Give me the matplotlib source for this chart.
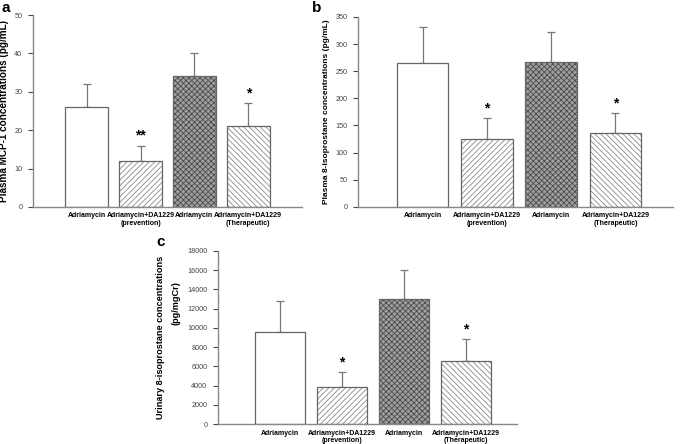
import matplotlib
matplotlib.use("Agg")
import matplotlib.pyplot as plt

plt.rcParams['font.family'] = ['Liberation Sans', 'DejaVu Sans']
plt.rcParams['hatch.linewidth'] = 0.6

groups = ["Adriamycin", "Adriamycin+DA1229\n(prevention)", "Adriamycin", "Adriamycin+DA1229\n(Therapeutic)"]

# panel a: plasma MCP-1
mcp_mean = [26, 12, 34, 21]
mcp_err = [6, 4, 6, 6]
mcp_sig = ["", "**", "", "*"]

# panel b: plasma 8-isoprostane
iso_mean = [265, 125, 266, 137]
iso_err = [66, 38, 56, 36]
iso_sig = ["", "*", "", "*"]

# panel c: urinary 8-isoprostane
uri_mean = [9600, 3800, 13000, 6500]
uri_err = [3200, 1600, 3000, 2350]
uri_sig = ["", "*", "", "*"]

fills = ["white", "white", "#a0a0a0", "white"]
hatches = [None, "//////", "xxxxxx", "\\\\\\\\\\\\"]
hatch_cols = ["#777777", "#8a8a8a", "#4a4a4a", "#8a8a8a"]
axcol = "#888888"

fig = plt.figure(figsize=(6.85, 4.44), dpi=100)


def panel(rect, means, errs, sig, ymax, ystep, xmax, ylabel, ylab_size, letter, letter_xy, ylab_x):
    ax = fig.add_axes(rect)
    x = [1, 2, 3, 4]
    for i in range(4):
        ax.bar(x[i], means[i], width=0.8, color=fills[i], hatch=hatches[i],
               edgecolor=hatch_cols[i], linewidth=0, zorder=2)
        ax.bar(x[i], means[i], width=0.8, fill=False, edgecolor="#666666",
               linewidth=0.9, zorder=3)
    ax.errorbar(x, means, yerr=[[0] * 4, errs], fmt="none", ecolor="#777777",
                elinewidth=0.9, capsize=3, capthick=0.9, zorder=1)
    for i in range(4):
        if sig[i]:
            ax.text(x[i], means[i] + errs[i] + ymax * 0.015, sig[i], ha="center",
                    va="bottom", fontsize=10, fontweight="bold")
    ax.set_xlim(0, xmax)
    ax.set_ylim(0, ymax)
    ax.set_yticks(range(0, ymax + 1, ystep))
    ax.set_xticks(x)
    ax.set_xticklabels(groups, fontsize=5.0, fontweight="bold", linespacing=1.1)
    ax.tick_params(axis="x", length=0, pad=4)
    ax.tick_params(axis="y", labelsize=5.2, colors="#444444", length=3.5,
                   width=0.8, pad=4)
    for s in ["top", "right"]:
        ax.spines[s].set_visible(False)
    for s in ["left", "bottom"]:
        ax.spines[s].set_color(axcol)
        ax.spines[s].set_linewidth(1.0)
    ax.set_ylabel(ylabel, fontsize=ylab_size, fontweight="bold")
    ax.yaxis.set_label_coords(ylab_x, 0.5)
    fig.text(letter_xy[0], letter_xy[1], letter, fontsize=11, fontweight="bold",
             ha="left", va="top")
    return ax


panel([0.048, 0.534, 0.393, 0.432], mcp_mean, mcp_err, mcp_sig, 50, 10, 5.0,
      "Plasma MCP-1 concentrations (pg/mL)", 7.2, "a", (0.002, 0.998), -0.088)
panel([0.523, 0.534, 0.459, 0.428], iso_mean, iso_err, iso_sig, 350, 50, 4.89,
      "Plasma 8-isoprostane concentrations (pg/mL)", 6.0, "b", (0.456, 0.998), -0.09)
axc = panel([0.318, 0.045, 0.437, 0.39], uri_mean, uri_err, uri_sig, 18000, 2000, 4.83,
            "Urinary 8-isoprostane concentrations", 6.6, "c", (0.228, 0.47), -0.175)
axc.text(-0.14, 0.70, "(pg/mgCr)", transform=axc.transAxes, rotation=90,
         ha="center", va="center", fontsize=6.6, fontweight="bold")

fig.savefig("out.png", dpi=100)
